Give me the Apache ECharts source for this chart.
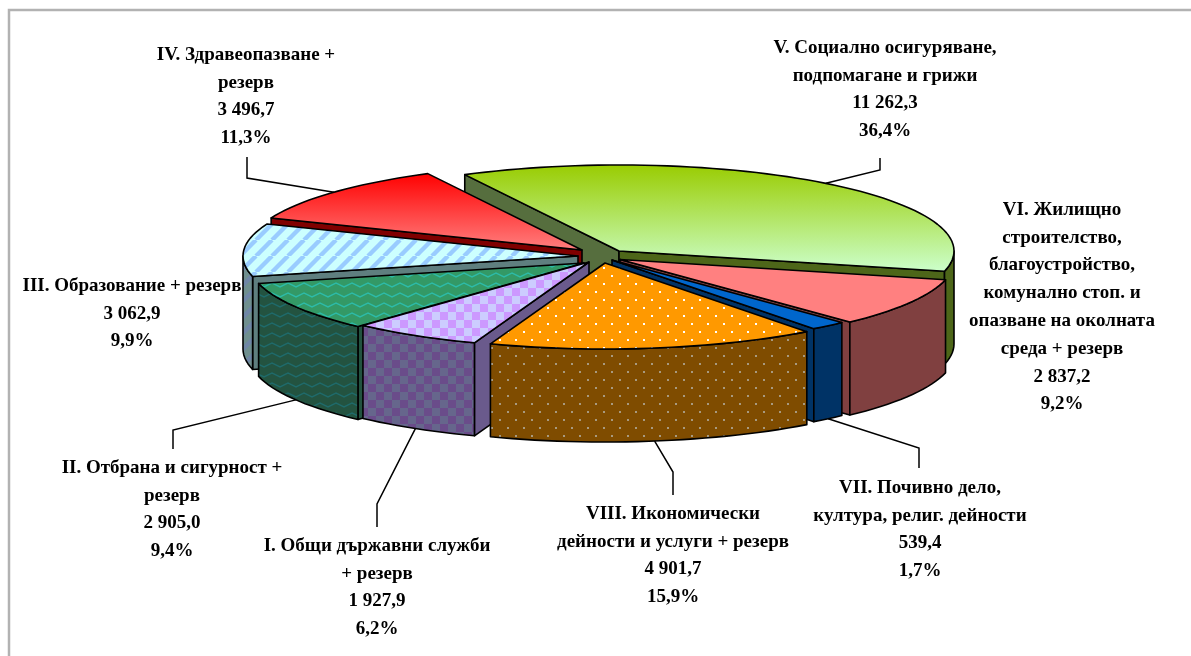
<!DOCTYPE html>
<html>
<head>
<meta charset="utf-8">
<script src="https://cdn.jsdelivr.net/npm/echarts@6/dist/echarts.min.js"></script>
<style>
  html, body { margin: 0; padding: 0; background: #fff; }
  #chart { width: 1191px; height: 656px; }
</style>
</head>
<body>
<div id="chart"></div>
<script>
const categories = [
  'I. Общи държавни служби\n+ резерв',
  'II. Отбрана и сигурност +\nрезерв',
  'III. Образование + резерв',
  'IV. Здравеопазване +\nрезерв',
  'V. Социално осигуряване,\nподпомагане и грижи',
  'VI. Жилищно\nстроителство,\nблагоустройство,\nкомунално стоп. и\nопазване на околната\nсреда + резерв',
  'VII. Почивно дело,\nкултура, религ. дейности',
  'VIII. Икономически\nдейности и услуги + резерв'
]
const values = [1927.9, 2905.0, 3062.9, 3496.7, 11262.3, 2837.2, 539.4, 4901.7]
const percents = ['6,2%', '9,4%', '9,9%', '11,3%', '36,4%', '9,2%', '1,7%', '15,9%']

// pie geometry
const cx = 600, cy = 256, rx = 335, ry = 86, depth = 93
const startAngle = 110
// how far each slice is pulled out of the pie
const explode = [[-11, 6], [-16, 7], [-22, 0], [-18, -6], [19, -5], [20, 3.5], [12, 4], [5, 7]]
const total = values.reduce((a, b) => a + b, 0)
// back to front
const drawOrder = [4, 3, 2, 1, 5, 6, 0, 7]
// label centre x, first line top y
const labelPos = [[377, 532], [172, 454], [132, 272], [246, 41], [885, 34], [1062, 196], [920, 474], [673, 500]]
// elbow points of the leader lines, label end first; anchor comes from the slice
const leaders = [
  [[377, 527], [377, 504]],
  [[173, 449], [173, 430]],
  null,
  [[247, 157], [247, 178]],
  [[880, 158], [880, 170]],
  null,
  [[919, 468], [919, 448]],
  [[673, 495], [673, 472]]
]

function tile(w, h, draw) {
  const c = document.createElement('canvas')
  c.width = w
  c.height = h
  draw(c.getContext('2d'))
  return { image: c, repeat: 'repeat' }
}
function checker(a, b) {
  return tile(16, 16, ctx => {
    ctx.fillStyle = a
    ctx.fillRect(0, 0, 16, 16)
    ctx.fillStyle = b
    ctx.fillRect(0, 0, 8, 8)
    ctx.fillRect(8, 8, 8, 8)
  })
}
function zigzag(a, b) {
  return tile(16, 10, ctx => {
    ctx.fillStyle = a
    ctx.fillRect(0, 0, 16, 10)
    ctx.strokeStyle = b
    ctx.lineWidth = 1.4
    ctx.beginPath()
    ctx.moveTo(-4, 7)
    ctx.lineTo(0, 3)
    ctx.lineTo(8, 7)
    ctx.lineTo(16, 3)
    ctx.lineTo(20, 5)
    ctx.stroke()
  })
}
function stripes(a, b) {
  return tile(16, 16, ctx => {
    ctx.fillStyle = a
    ctx.fillRect(0, 0, 16, 16)
    ctx.strokeStyle = b
    ctx.lineWidth = 4.4
    for (let i = -16; i <= 16; i += 16) {
      ctx.beginPath()
      ctx.moveTo(i, 16)
      ctx.lineTo(i + 16, 0)
      ctx.stroke()
    }
  })
}
function dots(a, b) {
  return tile(16, 16, ctx => {
    ctx.fillStyle = a
    ctx.fillRect(0, 0, 16, 16)
    ctx.fillStyle = b
    ctx.fillRect(3, 3, 2, 2)
    ctx.fillRect(11, 11, 2, 2)
  })
}
const vGrad = (a, b) => new echarts.graphic.LinearGradient(0, 0, 0, 1, [
  { offset: 0, color: a },
  { offset: 1, color: b }
])

const topFill = [
  checker('#ccccff', '#cc99ff'),
  zigzag('#339966', '#2dbba8'),
  stripes('#ccffff', '#99ccff'),
  vGrad('#ff0000', '#ff8080'),
  vGrad('#99cc00', '#ccffcc'),
  '#ff8080',
  '#0066cc',
  dots('#ff9900', '#ffffff')
]
const wallFill = [
  checker('#66668c', '#6a4c8a'),
  zigzag('#235340', '#1f6b6b'),
  stripes('#6f8f8f', '#6f86a6'),
  '#800000',
  '#4d6619',
  '#804040',
  '#003366',
  dots('#7f4c00', '#a89a80')
]
const startFaceFill = ['#6a5a8c', '#235340', '#5f7f7f', '#800000', '#566e3e', '#804040', '#003366', '#7f4c00']

function sliceAngles(i) {
  let sum = 0
  for (let k = 0; k < i; k++) sum += values[k]
  const a = startAngle + sum / total * 360
  return [a, a + values[i] / total * 360]
}
function arcPoints(px, py, a, b) {
  const pts = []
  const n = Math.max(2, Math.ceil((b - a) / 2))
  for (let k = 0; k <= n; k++) {
    const t = (a + (b - a) * k / n) * Math.PI / 180
    pts.push([px + rx * Math.cos(t), py + ry * Math.sin(t)])
  }
  return pts
}
const down = pts => pts.map(p => [p[0], p[1] + depth])
// 11262.3 -> "11 262,3"
function formatValue(v) {
  const parts = v.toFixed(1).split('.')
  return parts[0].replace(/\B(?=(\d{3})+$)/g, ' ') + ',' + parts[1]
}

function renderSlice(params, api) {
  const i = api.value(1)
  const [a, b] = sliceAngles(i)
  const mid = (a + b) / 2 * Math.PI / 180
  const px = cx + explode[i][0]
  const py = cy + explode[i][1]
  const z = (drawOrder.indexOf(i) + 1) * 10
  const lineStyle = { stroke: '#000', lineWidth: 1.6, lineJoin: 'round' }
  const children = []
  const poly = (points, fill, z2) => children.push({
    type: 'polygon',
    z2: z + z2,
    shape: { points: points },
    style: Object.assign({ fill: fill }, lineStyle)
  })

  // cut faces, only the ones facing the viewer
  if (Math.cos(a * Math.PI / 180) < 0) {
    const e = arcPoints(px, py, a, a + 0.01)[0]
    poly([[px, py], e, [e[0], e[1] + depth], [px, py + depth]], startFaceFill[i], 0)
  }
  if (Math.cos(b * Math.PI / 180) > 0) {
    const e = arcPoints(px, py, b, b + 0.01)[0]
    poly([[px, py], e, [e[0], e[1] + depth], [px, py + depth]], wallFill[i], 0)
  }
  // outer wall, front half of the ellipse only
  ;[[0, 180], [360, 540]].forEach(range => {
    const from = Math.max(a, range[0])
    const to = Math.min(b, range[1])
    if (to > from) {
      const arc = arcPoints(px, py, from, to)
      poly(arc.concat(down(arc).reverse()), wallFill[i], 1)
    }
  })
  poly([[px, py]].concat(arcPoints(px, py, a, b)), topFill[i], 2)

  // leader line
  if (leaders[i]) {
    const front = Math.sin(mid) > 0
    const anchor = [px + rx * Math.cos(mid), py + ry * Math.sin(mid) + (front ? depth : 0)]
    children.push({
      type: 'polyline',
      z2: 200,
      shape: { points: leaders[i].concat([anchor]) },
      style: { fill: null, stroke: '#000', lineWidth: 1.5 }
    })
  }
  // label
  children.push({
    type: 'text',
    z2: 210,
    x: labelPos[i][0],
    y: labelPos[i][1],
    style: {
      text: [categories[i], formatValue(api.value(0)), percents[i]].join('\n'),
      fill: '#000',
      font: 'bold 19px "Liberation Serif"',
      lineHeight: 27.8,
      align: 'center',
      verticalAlign: 'top'
    }
  })
  return { type: 'group', children: children }
}

const mycharts = echarts.init(document.getElementById('chart'))
mycharts.setOption({
  animation: false,
  backgroundColor: '#fff',
  graphic: [{
    type: 'polyline',
    silent: true,
    shape: { points: [[9, 656], [9, 10], [1191, 10]] },
    style: { fill: null, stroke: '#b2b2b2', lineWidth: 2.5 }
  }],
  series: [{
    type: 'custom',
    coordinateSystem: 'none',
    silent: true,
    renderItem: renderSlice,
    data: values.map((v, i) => ({ name: categories[i], value: [v, i] }))
  }]
})
window.addEventListener('resize', function() {
  mycharts.resize()
})
</script>
</body>
</html>
